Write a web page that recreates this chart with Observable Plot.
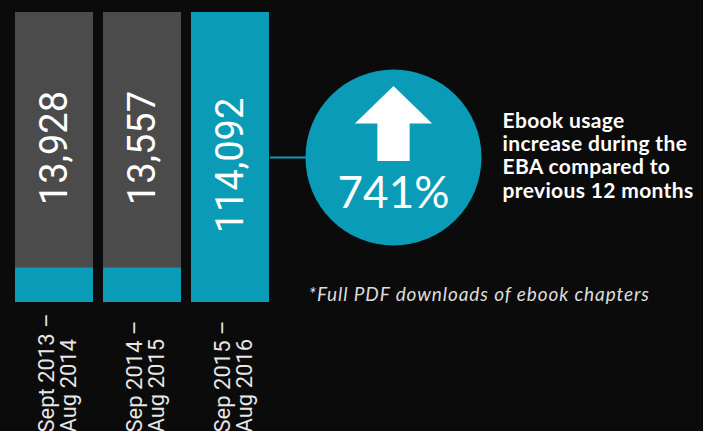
<!DOCTYPE html>
<html><head><meta charset="utf-8">
<script src="https://cdn.jsdelivr.net/npm/d3@7"></script>
<script src="https://cdn.jsdelivr.net/npm/@observablehq/plot@0.6"></script>
<style>html,body{margin:0;padding:0;background:#0b0b0b;overflow:hidden} #chart svg{display:block}</style>
</head><body><div id="chart"></div>
<script>
// Data
const periods = ["Sept 2013 –\nAug 2014", "Sep 2014 –\nAug 2015", "Sep 2015 –\nAug 2016"];
const downloads = [13928, 13557, 114092];
const baseShare = [0.12, 0.12, 1];
const increasePct = 741;
const increaseText = ["Ebook usage", "increase during the", "EBA compared to", "previous 12 months"];
const footnote = "*Full PDF downloads of ebook chapters";

const TEAL = "#0a9cb6", GREY = "#4b4b4b", BG = "#0b0b0b";
const rows = periods.map((p, i) => ({
  period: p, value: downloads[i], share: baseShare[i],
  labelY: baseShare[i] < 1 ? (baseShare[i] + 1) / 2 : 0.5
}));
const fmt = d3.format(",");
const lastPeriod = periods[periods.length - 1];

const arrowSymbol = {
  draw(ctx, size) {
    const r = Math.sqrt(size / Math.PI);
    ctx.moveTo(0, -r);
    ctx.lineTo(1.03 * r, 0);
    ctx.lineTo(0.43 * r, 0);
    ctx.lineTo(0.43 * r, r);
    ctx.lineTo(-0.43 * r, r);
    ctx.lineTo(-0.43 * r, 0);
    ctx.lineTo(-1.03 * r, 0);
    ctx.closePath();
  }
};

const plot = Plot.plot({
  width: 703, height: 431,
  marginLeft: 14, marginRight: 433, marginTop: 12, marginBottom: 129,
  style: {background: BG, fontFamily: "Lato, sans-serif", overflow: "visible"},
  x: {type: "band", domain: periods, paddingInner: 0.114, paddingOuter: 0, axis: null},
  y: {domain: [0, 1], axis: null},
  marks: [
    Plot.barY(rows, {x: "period", y1: "share", y2: () => 1, fill: GREY}),
    Plot.barY(rows, {x: "period", y1: () => 0, y2: "share", fill: TEAL}),
    Plot.text(rows, {x: "period", y: "labelY", text: d => fmt(d.value), rotate: -90,
      fontSize: 38, fill: "white", fontFamily: "Roboto", dy: 8}),
    Plot.text(rows, {x: "period", text: "period", frameAnchor: "bottom", rotate: -90,
      textAnchor: "start", lineAnchor: "middle", lineHeight: 1, fontSize: 22,
      fill: "#e6e6e6", fontFamily: "Roboto", dy: 130, dx: 3}),
    Plot.tickY([0.5], {x: () => lastPeriod, y: d => d, stroke: TEAL, strokeWidth: 2, dx: 79}),
    Plot.dot([increasePct], {x: () => lastPeriod, y: () => 0.5, r: 88, fill: TEAL, stroke: null, dx: 163}),
    Plot.dot([increasePct], {x: () => lastPeriod, y: () => 0.5, symbol: arrowSymbol, r: 37.5,
      fill: "white", stroke: null, dx: 163, dy: -34}),
    Plot.text([increasePct], {x: () => lastPeriod, y: () => 0.5, text: d => d + "%",
      fontSize: 44, fill: "white", dx: 163, dy: 36}),
    Plot.text([increaseText.join("\n")], {x: () => lastPeriod, y: () => 0.5, text: d => d,
      textAnchor: "start", lineAnchor: "middle", fontWeight: 700, fontSize: 21, lineHeight: 1.1,
      fill: "white", dx: 272, dy: -2}),
    Plot.text([footnote], {x: () => lastPeriod, y: () => 0, text: d => d, textAnchor: "start",
      fontStyle: "italic", fontSize: 19, fill: "#dddddd", dx: 78, dy: -8})
  ]
});
// letter spacing to mimic the wider original typeface
d3.select(plot).selectAll("text").each(function() {
  const t = this.textContent;
  if (t.startsWith("*Full")) d3.select(this).attr("letter-spacing", "0.9px");
  else if (t.startsWith("Ebook")) d3.select(this).attr("letter-spacing", "0.35px");
});
document.getElementById("chart").appendChild(plot);
</script>
</body></html>
